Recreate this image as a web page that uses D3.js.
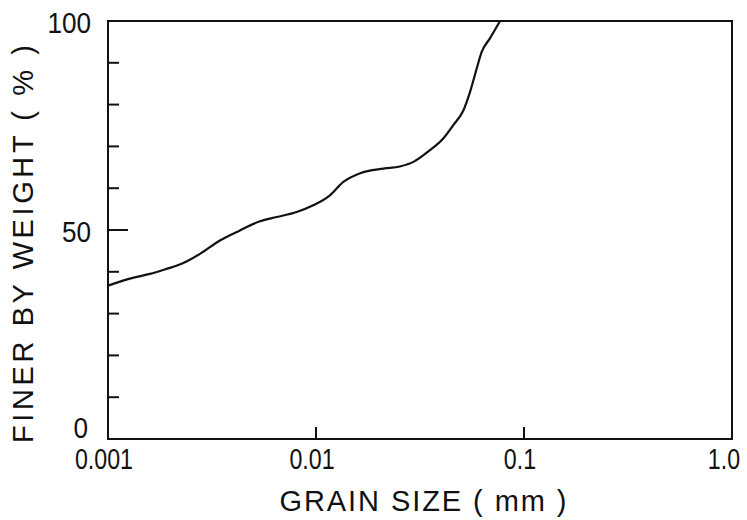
<!DOCTYPE html>
<html>
<head>
<meta charset="utf-8">
<script src="https://cdn.jsdelivr.net/npm/d3@7"></script>
<style>
  body { margin: 0; background: #fff; }
  svg text { font-family: "Liberation Sans", Arial, sans-serif; fill: #111; }
</style>
</head>
<body>
<svg id="chart" width="747" height="520"></svg>
<script>
// grain size (mm) and percent finer
var sizes = [0.001, 0.00133, 0.00159, 0.00191, 0.00226, 0.00277, 0.00345, 0.00431, 0.00538, 0.00647,
             0.00807, 0.0097, 0.01167, 0.01353, 0.0163, 0.0211, 0.0253, 0.0294, 0.0353, 0.0409,
             0.0457, 0.0511, 0.055, 0.0593, 0.0626, 0.0687, 0.0767];
var finer = [36.7, 38.6, 39.5, 40.7, 41.9, 44.3, 47.5, 49.9, 52.1, 53.1,
             54.3, 55.9, 58.3, 61.5, 63.6, 64.7, 65.2, 66.3, 69.1, 71.9,
             75.1, 78.6, 83.0, 88.7, 92.6, 95.9, 100];
var xTicks = [0.001, 0.01, 0.1, 1];
var xTickLabels = ["0.001", "0.01", "0.1", "1.0"];
var yMinorTicks = [10, 20, 30, 40, 60, 70, 80, 90];
var yLabelTicks = [0, 50, 100];

var svg = d3.select("#chart"),
    margin = {left: 108, right: 732, top: 21, bottom: 439};

var x = d3.scaleLog().domain([0.001, 1]).range([margin.left, margin.right]);
var y = d3.scaleLinear().domain([0, 100]).range([margin.bottom, margin.top]);

var data = sizes.map(function(d, i) { return {size: d, pct: finer[i]}; });

// narrow the digits a bit, the original lettering is condensed
function squeeze(sel, k) {
    sel.each(function() {
        var w = this.getComputedTextLength();
        d3.select(this).attr("textLength", w * k).attr("lengthAdjust", "spacingAndGlyphs");
    });
}

// frame
svg.append("rect")
    .attr("x", margin.left)
    .attr("y", margin.top)
    .attr("width", margin.right - margin.left)
    .attr("height", margin.bottom - margin.top)
    .attr("fill", "none")
    .attr("stroke", "#111")
    .attr("stroke-width", 2);

// inward ticks on y axis
svg.append("g").selectAll("line")
    .data(yMinorTicks.concat([50]))
    .enter().append("line")
    .attr("x1", margin.left)
    .attr("x2", function(d) { return d === 50 ? margin.left + 20 : margin.left + 11; })
    .attr("y1", function(d) { return y(d); })
    .attr("y2", function(d) { return y(d); })
    .attr("stroke", "#111")
    .attr("stroke-width", 2);

// inward ticks on x axis
svg.append("g").selectAll("line")
    .data([0.01, 0.1])
    .enter().append("line")
    .attr("x1", function(d) { return x(d); })
    .attr("x2", function(d) { return x(d); })
    .attr("y1", margin.bottom)
    .attr("y2", margin.bottom - 12)
    .attr("stroke", "#111")
    .attr("stroke-width", 2);

// y tick labels
svg.append("g").selectAll("text")
    .data(yLabelTicks)
    .enter().append("text")
    .attr("x", function(d) { return d === 0 ? 88 : 91; })
    .attr("y", function(d) { return d === 0 ? y(d) - 11 : y(d) + 2; })
    .attr("dy", "0.36em")
    .attr("text-anchor", "end")
    .attr("font-size", 29)
    .text(function(d) { return d; })
    .call(squeeze, 0.9);

// x tick labels
svg.append("g").selectAll("text")
    .data(xTicks)
    .enter().append("text")
    .attr("x", function(d, i) { return x(d) - (i === 3 ? 8 : 4); })
    .attr("y", 469)
    .attr("text-anchor", "middle")
    .attr("font-size", 29)
    .text(function(d, i) { return xTickLabels[i]; })
    .call(squeeze, 0.8);

// axis titles
svg.append("text")
    .attr("x", 423)
    .attr("y", 511)
    .attr("text-anchor", "middle")
    .attr("font-size", 29)
    .attr("textLength", 287)
    .attr("lengthAdjust", "spacing")
    .text("GRAIN  SIZE ( mm )");

svg.append("text")
    .attr("transform", "translate(33,244) rotate(-90)")
    .attr("text-anchor", "middle")
    .attr("font-size", 29)
    .attr("textLength", 398)
    .attr("lengthAdjust", "spacing")
    .text("FINER BY WEIGHT ( % )");

// gradation curve
var line = d3.line()
    .x(function(d) { return x(d.size); })
    .y(function(d) { return y(d.pct); })
    .curve(d3.curveMonotoneX);

svg.append("path")
    .datum(data)
    .attr("fill", "none")
    .attr("stroke", "#111")
    .attr("stroke-width", 2.2)
    .attr("stroke-linejoin", "round")
    .attr("d", line);
</script>
</body>
</html>
